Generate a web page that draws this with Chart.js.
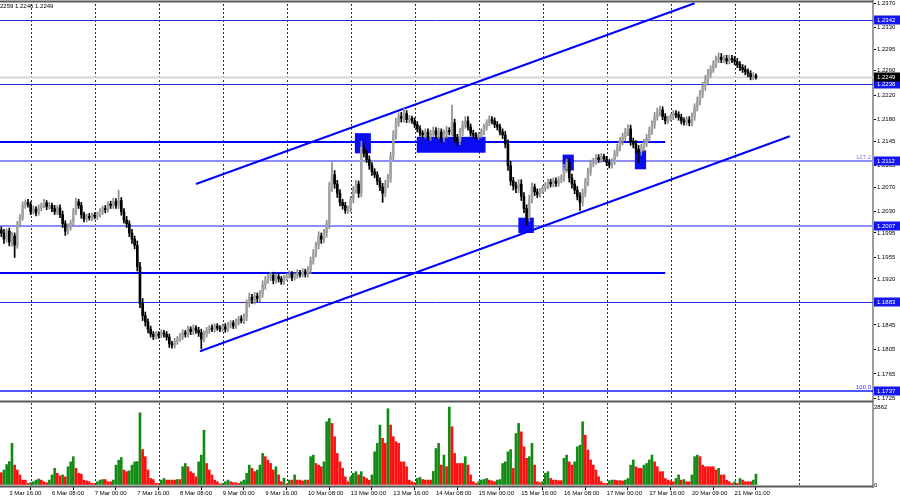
<!DOCTYPE html>
<html><head><meta charset="utf-8">
<script src="https://cdn.jsdelivr.net/npm/chart.js@4.4.0/dist/chart.umd.min.js"></script>
<style>
html,body{margin:0;padding:0;background:#fff;overflow:hidden}
#wrap{position:relative;width:900px;height:500px;background:#fff}
#pc{position:absolute;left:0;top:0}
#vc{position:absolute;left:0;top:400px}
</style></head><body>
<div id="wrap"><canvas id="pc" width="900" height="400"></canvas><canvas id="vc" width="900" height="100"></canvas></div>
<script>
// ---------------- DATA ----------------
const PIP = 0.0001;
const firstOpen = 1.2000;
const closes = [
1.1995,1.1985,1.1998,1.1980,1.1990,1.1975,1.2010,1.2020,1.2040,1.2045,1.2042,
1.2030,1.2034,1.2028,1.2036,1.2040,1.2044,1.2038,1.2040,1.2035,1.2030,1.2036,1.2025,1.2010,1.1998,1.2005,1.2012,1.2030,1.2046,1.2040,1.2025,1.2018,1.2022,1.2020,1.2024,
1.2022,1.2025,1.2030,1.2035,1.2033,1.2042,1.2040,1.2046,1.2040,1.2048,1.2030,1.2016,1.2010,1.1995,1.1985,1.1975,1.1940,1.1880,1.1860,1.1850,1.1838,1.1830,1.1826,1.1830,
1.1828,1.1832,1.1830,1.1825,1.1814,1.1812,1.1818,1.1822,1.1826,1.1832,1.1830,1.1838,1.1834,1.1840,1.1836,1.1832,1.1822,1.1830,1.1836,1.1840,1.1838,1.1843,1.1840,1.1838,
1.1842,1.1838,1.1845,1.1848,1.1843,1.1850,1.1855,1.1852,1.1858,1.1880,1.1890,1.1885,1.1892,1.1888,1.1896,1.1910,1.1918,1.1922,1.1926,1.1918,1.1924,1.1920,1.1915,1.1922,
1.1925,1.1928,1.1922,1.1926,1.1930,1.1927,1.1932,1.1928,1.1935,1.1950,1.1962,1.1975,1.1990,1.1985,1.1995,1.2010,1.2070,1.2090,1.2075,1.2060,1.2045,1.2040,1.2032,1.2035,
1.2050,1.2065,1.2075,1.2060,1.2135,1.2125,1.2115,1.2105,1.2095,1.2090,1.2080,1.2070,1.2060,1.2075,1.2085,1.2120,1.2155,1.2175,1.2185,1.2182,1.2190,1.2180,1.2182,1.2178,
1.2172,1.2165,1.2158,1.2155,1.2160,1.2152,1.2158,1.2162,1.2155,1.2160,1.2150,1.2157,1.2162,1.2160,1.2175,1.2150,1.2145,1.2160,1.2172,1.2178,1.2168,1.2158,1.2155,1.2152,
1.2155,1.2160,1.2168,1.2175,1.2180,1.2178,1.2172,1.2168,1.2160,1.2155,1.2140,1.2105,1.2080,1.2072,1.2068,1.2075,1.2055,1.2035,1.2020,1.2050,1.2070,1.2062,1.2058,1.2064,
1.2068,1.2072,1.2078,1.2075,1.2080,1.2076,1.2082,1.2085,1.2100,1.2110,1.2085,1.2075,1.2065,1.2055,1.2045,1.2060,1.2078,1.2095,1.2108,1.2112,1.2118,1.2115,1.2120,1.2116,
1.2110,1.2106,1.2112,1.2125,1.2135,1.2145,1.2152,1.2160,1.2165,1.2145,1.2140,1.2132,1.2128,1.2135,1.2142,1.2150,1.2162,1.2172,1.2185,1.2192,1.2196,1.2185,1.2178,1.2182,
1.2185,1.2190,1.2188,1.2184,1.2178,1.2176,1.2180,1.2175,1.2185,1.2200,1.2210,1.2222,1.2235,1.2245,1.2255,1.2262,1.2270,1.2278,1.2282,1.2278,1.2280,1.2276,1.2280,1.2278,
1.2275,1.2270,1.2265,1.2262,1.2258,1.2255,1.2250,1.2252,1.2249
];
// wick lengths above / below the candle body, in pips
const wickUp = [
5,6,4,5,6,5,4,5,6,4,5,
4,5,4,5,4,6,4,5,4,5,4,5,6,5,5,4,5,6,4,5,4,4,5,4,
4,4,5,4,5,4,5,6,5,17,5,5,6,5,6,5,7,7,8,6,5,5,4,4,
4,5,4,4,5,4,5,4,5,5,4,5,4,5,4,5,6,5,5,4,5,4,4,4,
4,5,4,4,4,5,4,5,5,6,7,5,6,5,5,7,6,5,5,5,4,5,4,4,
4,5,4,4,5,4,5,4,5,6,6,5,7,5,6,6,8,20,7,6,6,5,5,4,
5,6,6,5,10,6,5,6,5,5,5,5,6,6,6,7,7,7,6,7,10,5,5,4,
5,5,5,4,5,5,5,6,5,6,5,6,7,5,29,6,6,6,6,7,7,5,5,4,
4,5,5,5,6,5,5,5,5,5,6,7,7,6,6,7,7,6,6,7,7,5,5,4,
4,5,5,5,5,5,5,5,7,6,6,6,6,6,6,7,6,6,6,5,5,5,5,4,
4,5,4,5,5,6,6,6,7,6,5,6,6,5,6,6,6,6,7,7,6,5,5,4,
4,5,5,5,5,5,5,5,6,6,7,6,6,7,7,6,6,6,7,6,5,5,5,5,
5,5,5,5,6,5,5,5,3
];
const wickDn = [
6,7,5,6,7,20,5,5,4,5,5,
5,4,5,4,5,4,5,4,5,5,5,5,6,7,5,5,5,5,5,6,5,5,4,5,
4,5,4,5,5,4,5,5,5,5,6,5,6,6,7,6,7,7,8,7,6,5,5,4,
5,4,5,5,6,5,5,5,4,5,5,5,5,5,5,6,16,5,5,5,4,5,4,4,
4,5,4,5,4,4,5,4,5,6,6,5,6,5,5,6,7,5,5,6,5,5,4,4,
4,4,5,4,5,4,4,5,5,6,6,6,6,7,6,7,8,7,7,7,6,6,5,5,
6,6,5,7,6,6,5,6,6,5,6,6,15,6,6,7,7,7,6,6,6,5,5,4,
5,5,5,5,5,5,6,5,6,6,7,6,7,5,6,7,7,6,6,6,5,5,5,4,
4,5,5,5,5,5,5,5,5,6,6,8,7,7,7,7,7,7,12,6,6,6,5,4,
4,5,5,5,5,5,5,5,6,6,7,7,6,6,13,6,6,6,6,5,5,5,5,4,
5,5,5,5,5,6,6,6,6,7,6,6,18,6,6,6,6,6,6,6,6,5,5,4,
4,5,5,5,5,5,5,5,5,6,6,6,6,7,6,6,5,5,5,5,5,5,5,5,
5,5,5,5,5,5,5,5,3
];
const volumes = [
450,550,750,860,1530,730,550,370,180,180,60,
85,120,180,220,180,120,85,180,370,610,430,330,370,300,670,850,1040,610,430,400,180,150,120,60,
60,120,180,200,200,120,120,180,730,910,1010,550,490,520,730,850,860,2650,1300,1040,550,240,200,60,
60,180,240,180,180,180,180,200,200,670,790,670,490,430,300,850,1100,2010,790,550,370,180,120,40,
60,120,180,120,85,85,60,120,180,430,730,610,490,550,730,1160,1040,910,790,550,670,370,120,250,
40,180,180,370,180,180,150,180,180,1040,1100,790,730,670,850,2320,2440,2260,1770,1160,850,610,300,120,
300,430,490,370,490,300,240,180,370,1220,1530,2200,1710,1530,2800,2200,1770,1590,1530,850,850,670,180,120,
85,240,280,200,180,180,180,500,1340,1530,730,1100,670,2860,2140,1160,790,790,790,1040,730,370,120,60,
120,180,200,240,180,150,120,180,200,790,850,1220,1300,610,1890,2260,1950,1400,980,1040,1530,730,120,85,
120,430,490,240,180,180,160,160,980,1100,850,730,850,1400,1460,2320,1830,1280,920,730,550,300,120,60,
60,160,180,180,160,160,150,180,240,730,920,670,610,610,730,790,920,1100,850,670,490,490,240,180,
150,120,240,370,180,200,120,120,370,1040,1100,1040,730,670,670,670,670,550,610,370,370,180,120,60,
120,60,240,180,120,120,120,180,400
];
const priceTicks = [1.2370,1.2330,1.2295,1.2260,1.2220,1.2180,1.2145,1.2105,1.2070,1.2030,1.1995,1.1955,1.1920,1.1880,1.1845,1.1805,1.1765,1.1725];
const volTicks = [2862, 0];
const timeLabelIdx = [3,19,35,51,67,83,99,115,131,147,163,179,195,211,227,243,259,275];
const timeLabels = ['3 Mar 16:00','6 Mar 08:00','7 Mar 00:00','7 Mar 16:00','8 Mar 08:00','9 Mar 00:00','9 Mar 16:00','10 Mar 08:00','13 Mar 00:00','13 Mar 16:00','14 Mar 08:00','15 Mar 00:00','15 Mar 16:00','16 Mar 08:00','17 Mar 00:00','17 Mar 16:00','20 Mar 09:00','21 Mar 01:00'];
const gridIdx = [11,35,59,83,107,131,155,179,203,227,251,275,299];
const levelPrices = [1.2342,1.2238,1.2112,1.2007,1.1883,1.1737];
const levelKinds = ['thin','thin','fibo','fibo','thin','base'];
const segPrices = [1.2143,1.1930];
const segEndIdx = 249;
const channelUpper = [[73,1.2075],[260,1.2370]];
const channelLower = [[74.5,1.1802],[295.7,1.2153]];
const zones = [[132.6,138.6,1.2158,1.2125],[155.8,181.6,1.2152,1.2126],[193.9,199.7,1.2020,1.1995],[210.5,214.7,1.2123,1.2097],[237.6,241.8,1.2130,1.2099]];
const lastPrice = 1.2249;
const fiboTags = [['127.2',1.2112],['100.0',1.1737]];
const ohlcText = '1.2259 1.2246 1.2249';

// ---------------- BUILD ----------------
const X_MIN = -0.49, X_MAX = 326.9;
const opens = closes.map((c,i)=> i===0 ? firstOpen : closes[i-1]);
const highs = closes.map((c,i)=> Math.max(opens[i],c) + wickUp[i]*PIP);
const lows = closes.map((c,i)=> Math.min(opens[i],c) - wickDn[i]*PIP);
const bull = closes.map((c,i)=> c >= opens[i]);
const bodyData = closes.map((c,i)=>({x:i, y:[opens[i], c]}));
const wickData = closes.map((c,i)=>({x:i, y:[lows[i], highs[i]]}));
const volData = volumes.map((v,i)=>({x:i, y:v}));
const volColors = volumes.map((v,i)=> (i>0 && v>volumes[i-1]) ? '#168a16' : '#ff1010');

Chart.defaults.font.family = "'Liberation Sans', Arial, sans-serif";
Chart.defaults.font.size = 6;
Chart.defaults.color = '#000';

function zeroPad(s){ s.paddingLeft=0; s.paddingRight=0; s.paddingTop=0; s.paddingBottom=0; }

const priceObjects = {
  id:'priceObjects',
  beforeDatasetsDraw(chart){
    const {ctx, chartArea:a, scales:{x,y}} = chart;
    ctx.save();
    ctx.beginPath(); ctx.rect(a.left, a.top, a.right-a.left, a.bottom-a.top); ctx.clip();
    ctx.strokeStyle = '#303030'; ctx.lineWidth = 1; ctx.setLineDash([2,2]);
    gridIdx.forEach(g=>{ const px = Math.round(x.getPixelForValue(g))+0.5; ctx.beginPath(); ctx.moveTo(px,4); ctx.lineTo(px,a.bottom); ctx.stroke(); });
    ctx.setLineDash([]);
    ctx.strokeStyle = '#d4d4d4'; ctx.lineWidth = 2;
    let py = y.getPixelForValue(lastPrice);
    ctx.beginPath(); ctx.moveTo(a.left,py); ctx.lineTo(a.right,py); ctx.stroke();
    levelPrices.forEach((p,k)=>{
      const kind = levelKinds[k];
      const yy = Math.round(y.getPixelForValue(p));
      if (kind==='fibo'){ ctx.strokeStyle='#8c8cff'; ctx.lineWidth=2; ctx.beginPath(); ctx.moveTo(a.left,yy); ctx.lineTo(a.right,yy); ctx.stroke(); }
      else if (kind==='base'){ ctx.strokeStyle='#1a1aff'; ctx.lineWidth=1.5; ctx.beginPath(); ctx.moveTo(a.left,yy); ctx.lineTo(a.right,yy); ctx.stroke(); }
      else { ctx.strokeStyle='#2a2ae6'; ctx.lineWidth=1; ctx.beginPath(); ctx.moveTo(a.left,yy+0.5); ctx.lineTo(a.right,yy+0.5); ctx.stroke(); }
    });
    ctx.strokeStyle = '#0000ff'; ctx.lineWidth = 2;
    const xe = x.getPixelForValue(segEndIdx);
    segPrices.forEach(p=>{ const yy = Math.round(y.getPixelForValue(p)); ctx.beginPath(); ctx.moveTo(a.left,yy); ctx.lineTo(xe,yy); ctx.stroke(); });
    ctx.fillStyle = '#0c0cf2';
    zones.forEach(z=>{
      const x1 = x.getPixelForValue(z[0]), x2 = x.getPixelForValue(z[1]);
      const y1 = y.getPixelForValue(z[2]), y2 = y.getPixelForValue(z[3]);
      ctx.fillRect(x1, y1, x2-x1, y2-y1);
    });
    ctx.strokeStyle = '#0000ff'; ctx.lineWidth = 2;
    [channelUpper, channelLower].forEach(c=>{
      ctx.beginPath();
      ctx.moveTo(x.getPixelForValue(c[0][0]), y.getPixelForValue(c[0][1]));
      ctx.lineTo(x.getPixelForValue(c[1][0]), y.getPixelForValue(c[1][1]));
      ctx.stroke();
    });
    ctx.restore();
  },
  afterDraw(chart){
    const {ctx, chartArea:a, scales:{y}} = chart;
    ctx.save();
    ctx.strokeStyle = '#5a5a5a'; ctx.lineWidth = 2;
    ctx.beginPath(); ctx.moveTo(0,1.5); ctx.lineTo(a.right,1.5); ctx.stroke();
    ctx.font = "6px 'Liberation Sans', Arial, sans-serif";
    ctx.textBaseline = 'middle'; ctx.textAlign = 'left';
    levelPrices.forEach(p=>{
      const yy = Math.round(y.getPixelForValue(p));
      ctx.fillStyle = '#1414f0'; ctx.fillRect(a.right+1, yy-4.5, 27, 9);
      ctx.fillStyle = '#fff'; ctx.fillText(p.toFixed(4), a.right+4, yy+0.5);
    });
    const ly = Math.round(y.getPixelForValue(lastPrice));
    ctx.fillStyle = '#000'; ctx.fillRect(a.right+1, ly-4.5, 27, 9);
    ctx.fillStyle = '#fff'; ctx.fillText(lastPrice.toFixed(4), a.right+4, ly+0.5);
    ctx.textAlign = 'right'; ctx.textBaseline = 'bottom';
    fiboTags.forEach((t,k)=>{
      const yy = y.getPixelForValue(t[1]);
      ctx.fillStyle = k===0 ? '#7777ff' : '#3333ff';
      ctx.fillText(t[0], a.right-2, yy-1);
    });
    ctx.textAlign = 'left'; ctx.textBaseline = 'middle'; ctx.fillStyle = '#000';
    ctx.fillText(ohlcText, -5, 6.5);
    ctx.restore();
  }
};

new Chart(document.getElementById('pc'), {
  type:'bar',
  data:{ datasets:[
    { data: bodyData, backgroundColor: bull.map(b=> b ? '#a4a4a4' : '#000'), barThickness:2, minBarLength:1, grouped:false, order:0 },
    { data: wickData, backgroundColor: bull.map(b=> b ? '#8a8a8a' : '#000'), barThickness:1, grouped:false, order:1 }
  ]},
  options:{
    responsive:false, animation:false, devicePixelRatio:1,
    layout:{padding:0},
    plugins:{legend:{display:false}, tooltip:{enabled:false}},
    scales:{
      x:{ type:'linear', min:X_MIN, max:X_MAX, offset:false, display:false },
      y:{ position:'right', min: 1.2370 - 396.7/6125, max: 1.2370 + 3.3/6125,
          afterBuildTicks(s){ s.ticks = priceTicks.map(v=>({value:v})); },
          afterFit(s){ s.width = 27; zeroPad(s); },
          ticks:{ autoSkip:false, padding:1, callback:(v)=>Number(v).toFixed(4), font:{size:6} },
          grid:{ drawOnChartArea:false, drawTicks:true, tickLength:3, color:'#000', tickColor:'#000' },
          border:{ display:true, color:'#9c9c9c', width:2 } }
    }
  },
  plugins:[priceObjects]
});

const volObjects = {
  id:'volObjects',
  beforeDatasetsDraw(chart){
    const {ctx, chartArea:a, scales:{x}} = chart;
    ctx.save();
    ctx.strokeStyle = '#303030'; ctx.lineWidth = 1; ctx.setLineDash([2,2]);
    gridIdx.forEach(g=>{ const px = Math.round(x.getPixelForValue(g))+0.5; ctx.beginPath(); ctx.moveTo(px,3); ctx.lineTo(px,a.bottom); ctx.stroke(); });
    ctx.restore();
  },
  afterDraw(chart){
    const {ctx, chartArea:a} = chart;
    ctx.save();
    ctx.strokeStyle = '#5a5a5a'; ctx.lineWidth = 2;
    ctx.beginPath(); ctx.moveTo(0,1.5); ctx.lineTo(a.right,1.5); ctx.stroke();
    ctx.beginPath(); ctx.moveTo(0,a.bottom-0.5); ctx.lineTo(a.right,a.bottom-0.5); ctx.stroke();
    ctx.restore();
  }
};

const VPX = 2862/78;
new Chart(document.getElementById('vc'), {
  type:'bar',
  data:{ datasets:[
    { data: volData, backgroundColor: volColors, barThickness:2, grouped:false }
  ]},
  options:{
    responsive:false, animation:false, devicePixelRatio:1,
    layout:{padding:0},
    plugins:{legend:{display:false}, tooltip:{enabled:false}},
    scales:{
      x:{ type:'linear', min:X_MIN, max:X_MAX, offset:false, display:false },
      xl:{ type:'linear', position:'bottom', min:X_MIN, max:X_MAX, offset:false,
           afterBuildTicks(s){ s.ticks = timeLabelIdx.map(v=>({value:v})); },
           afterFit(s){ s.height = 13; zeroPad(s); },
           ticks:{ autoSkip:false, maxRotation:0, minRotation:0, align:'start', padding:0,
                   callback:(v,i)=> timeLabels[i], font:{size:6} },
           grid:{ drawOnChartArea:false, drawTicks:true, tickLength:3, color:'#000', tickColor:'#000' },
           border:{ display:false } },
      y:{ position:'right', min: -2*VPX, max: 2862 + 7*VPX,
          afterBuildTicks(s){ s.ticks = volTicks.map(v=>({value:v})); },
          afterFit(s){ s.width = 27; zeroPad(s); },
          ticks:{ autoSkip:false, padding:1, callback:(v)=>String(v), font:{size:6} },
          grid:{ drawOnChartArea:false, drawTicks:false, tickLength:3, color:'#000' },
          border:{ display:true, color:'#9c9c9c', width:2 } }
    }
  },
  plugins:[volObjects]
});
</script>
</body></html>
